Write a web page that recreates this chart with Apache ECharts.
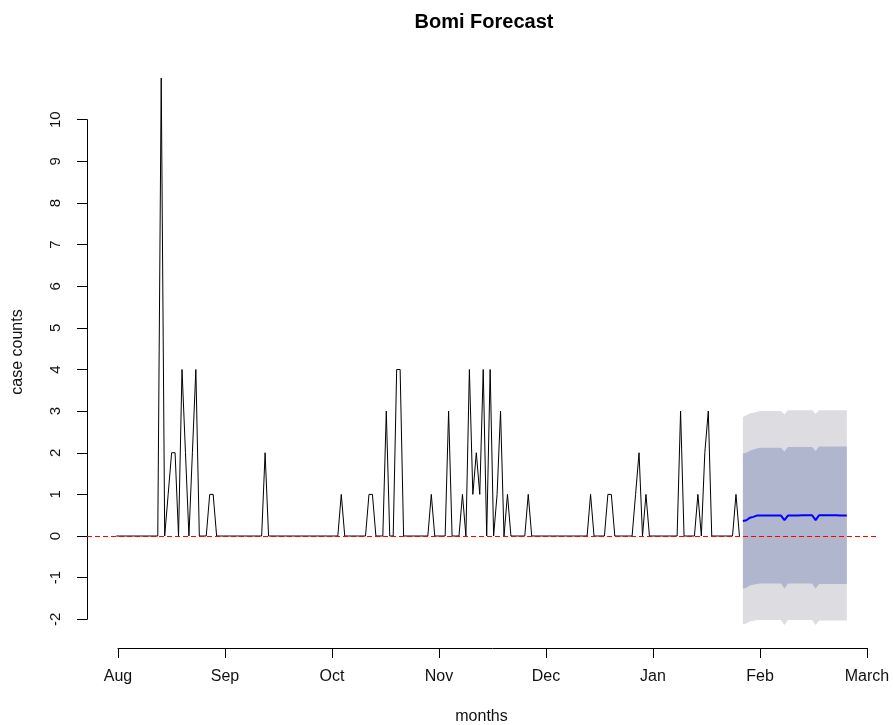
<!DOCTYPE html>
<html>
<head>
<meta charset="utf-8">
<title>Bomi Forecast</title>
<script src="https://cdn.jsdelivr.net/npm/echarts@6.0.0/dist/echarts.min.js"></script>
<style>
  html, body { margin: 0; padding: 0; background: #ffffff; }
  #chart { width: 893px; height: 725px; }
</style>
</head>
<body>
<div id="chart"></div>
<script>
// Daily case counts, day 0 = 1 August
const caseCounts = [
  0, 0, 0, 0, 0, 0, 0, 0, 0, 0,
  0, 0, 0, 11, 0, 1, 2, 2, 0, 4,
  2, 0, 2, 4, 0, 0, 0, 1, 1, 0,
  0, 0, 0, 0, 0, 0, 0, 0, 0, 0,
  0, 0, 0, 2, 0, 0, 0, 0, 0, 0,
  0, 0, 0, 0, 0, 0, 0, 0, 0, 0,
  0, 0, 0, 0, 0, 1, 0, 0, 0, 0,
  0, 0, 0, 1, 1, 0, 0, 0, 3, 0,
  0, 4, 4, 0, 0, 0, 0, 0, 0, 0,
  0, 1, 0, 0, 0, 0, 3, 0, 0, 0,
  1, 0, 4, 1, 2, 1, 4, 0, 4, 0,
  1, 3, 0, 1, 0, 0, 0, 0, 0, 1,
  0, 0, 0, 0, 0, 0, 0, 0, 0, 0,
  0, 0, 0, 0, 0, 0, 0, 1, 0, 0,
  0, 0, 1, 1, 0, 0, 0, 0, 0, 0,
  1, 2, 0, 1, 0, 0, 0, 0, 0, 0,
  0, 0, 0, 3, 0, 0, 0, 0, 1, 0,
  2, 3, 0, 0, 0, 0, 0, 0, 0, 1,
  0
];

// 30-day forecast, first forecast day index
const forecastStart = 181;
const forecastMean = [
  0.36, 0.38, 0.44, 0.46, 0.49,
  0.49, 0.49, 0.49, 0.49, 0.49, 0.49, 0.49,
  0.38,
  0.49, 0.49, 0.49, 0.49, 0.50, 0.50, 0.50, 0.50,
  0.38,
  0.50, 0.50, 0.50, 0.50, 0.50, 0.50, 0.49, 0.49, 0.49
];
const upper95 = [
  2.86, 2.90, 2.94, 2.96, 2.98,
  3.00, 3.00, 3.00, 3.00, 3.00, 3.00, 3.00,
  2.92,
  3.02, 3.02, 3.02, 3.02, 3.02, 3.02, 3.02, 3.02,
  2.93,
  3.02, 3.02, 3.02, 3.02, 3.02, 3.02, 3.02, 3.02, 3.02
];
const upper80 = [
  1.98, 2.00, 2.05, 2.08, 2.10,
  2.12, 2.12, 2.12, 2.12, 2.12, 2.12, 2.12,
  2.03,
  2.14, 2.14, 2.14, 2.14, 2.14, 2.14, 2.14, 2.14,
  2.04,
  2.15, 2.15, 2.15, 2.15, 2.15, 2.15, 2.15, 2.15, 2.15
];
const lower80 = [
  -1.26, -1.24, -1.19, -1.17, -1.15,
  -1.14, -1.14, -1.14, -1.14, -1.14, -1.14, -1.14,
  -1.26,
  -1.14, -1.14, -1.14, -1.14, -1.14, -1.14, -1.14, -1.14,
  -1.26,
  -1.15, -1.15, -1.15, -1.15, -1.15, -1.15, -1.15, -1.15, -1.15
];
const lower95 = [
  -2.12, -2.10, -2.05, -2.04, -2.02,
  -2.02, -2.02, -2.02, -2.02, -2.02, -2.02, -2.02,
  -2.14,
  -2.02, -2.02, -2.02, -2.02, -2.02, -2.02, -2.02, -2.02,
  -2.14,
  -2.03, -2.03, -2.03, -2.03, -2.03, -2.03, -2.03, -2.03, -2.03
];

const monthLabels = ['Aug', 'Sep', 'Oct', 'Nov', 'Dec', 'Jan', 'Feb', 'March'];
const yTickMin = -2;
const yTickMax = 10;
const referenceLevel = 0;

const FONT = '"Liberation Sans", Arial, Helvetica, sans-serif';
const INK = '#111111';
const LIGHT = '#DCDCE1';
const DARK = '#B1B6CF';

const observed = caseCounts.map((v, i) => [i, v]);
const fDays = forecastMean.map((_, i) => forecastStart + i);
const meanPairs = forecastMean.map((v, i) => [fDays[i], v]);

// Prediction intervals drawn as filled polygons in data coordinates
function renderBands(params, api) {
  if (params.dataIndex !== 0) return null;
  const poly = (lo, hi, color) => {
    const pts = [];
    for (let i = 0; i < fDays.length; i++) pts.push(api.coord([fDays[i], hi[i]]));
    for (let i = fDays.length - 1; i >= 0; i--) pts.push(api.coord([fDays[i], lo[i]]));
    return { type: 'polygon', shape: { points: pts }, style: { fill: color, stroke: null } };
  };
  return {
    type: 'group',
    children: [poly(lower95, upper95, LIGHT), poly(lower80, upper80, DARK)]
  };
}

// Horizontal dashed reference line spanning the whole plot region
function renderReference(params, api) {
  if (params.dataIndex !== 0) return null;
  const cs = params.coordSys;
  const y = Math.floor(api.coord([0, referenceLevel])[1]) + 0.5;
  return {
    type: 'line',
    shape: { x1: cs.x, y1: y, x2: cs.x + cs.width, y2: y },
    style: { stroke: '#FF0000', lineWidth: 1, lineDash: [5, 3], fill: null }
  };
}

const chart = echarts.init(document.getElementById('chart'), null, { renderer: 'canvas' });

chart.setOption({
  animation: false,
  backgroundColor: '#ffffff',
  title: {
    text: 'Bomi Forecast',
    left: 479,
    top: 7,
    textAlign: 'center',
    textStyle: { fontFamily: FONT, fontWeight: 'bold', fontSize: 20, color: '#000' }
  },
  grid: [
    { left: 87, right: 17, top: 56, bottom: 77, outerBoundsMode: 'none', containLabel: false },
    { left: 87, width: 1, top: 119.7, bottom: 105.7, outerBoundsMode: 'none', containLabel: false },
    { left: 118, right: 26, bottom: 77, height: 1, outerBoundsMode: 'none', containLabel: false }
  ],
  xAxis: [
    {
      gridIndex: 0, type: 'value', min: -8.44, max: 219.44,
      name: 'months', nameLocation: 'middle', nameGap: 61,
      nameTextStyle: { fontFamily: FONT, fontSize: 16, color: INK },
      axisLine: { show: false }, axisTick: { show: false },
      axisLabel: { show: false }, splitLine: { show: false }
    },
    { gridIndex: 1, type: 'value', min: 0, max: 1, show: false },
    {
      gridIndex: 2, type: 'value', min: 0, max: monthLabels.length - 1, interval: 1,
      axisLine: { lineStyle: { color: '#000', width: 1 } },
      axisTick: { length: 10, lineStyle: { color: '#000', width: 1 } },
      axisLabel: {
        margin: 21, fontFamily: FONT, fontSize: 16, color: INK,
        formatter: v => monthLabels[v]
      },
      splitLine: { show: false }
    }
  ],
  yAxis: [
    {
      gridIndex: 0, type: 'value', min: -2.69, max: 11.53,
      name: 'case counts', nameLocation: 'middle', nameGap: 61,
      nameTextStyle: { fontFamily: FONT, fontSize: 16, color: INK },
      axisLine: { show: false }, axisTick: { show: false },
      axisLabel: { show: false }, splitLine: { show: false }
    },
    {
      gridIndex: 1, type: 'value', min: yTickMin, max: yTickMax, interval: 1,
      axisLine: { show: true, lineStyle: { color: '#000', width: 1 } },
      axisTick: { show: true, length: 10, lineStyle: { color: '#000', width: 1 } },
      axisLabel: { rotate: 90, margin: 24, fontFamily: FONT, fontSize: 15, color: INK },
      splitLine: { show: false }
    },
    { gridIndex: 2, type: 'value', min: 0, max: 1, show: false }
  ],
  series: [
    {
      name: 'intervals', type: 'custom', xAxisIndex: 0, yAxisIndex: 0,
      data: meanPairs, renderItem: renderBands, silent: true, z: 1
    },
    {
      name: 'observed', type: 'line', xAxisIndex: 0, yAxisIndex: 0,
      data: observed, symbol: 'none', silent: true, z: 3,
      color: '#000000',
      lineStyle: { color: '#000000', width: 1 }
    },
    {
      name: 'forecast', type: 'line', xAxisIndex: 0, yAxisIndex: 0,
      data: meanPairs, symbol: 'none', silent: true, z: 4,
      color: '#0000FF',
      lineStyle: { color: '#0000FF', width: 2 }
    },
    {
      name: 'reference', type: 'custom', xAxisIndex: 0, yAxisIndex: 0,
      data: [[0, referenceLevel]], renderItem: renderReference,
      silent: true, clip: false, z: 5
    }
  ]
});
</script>
</body>
</html>
